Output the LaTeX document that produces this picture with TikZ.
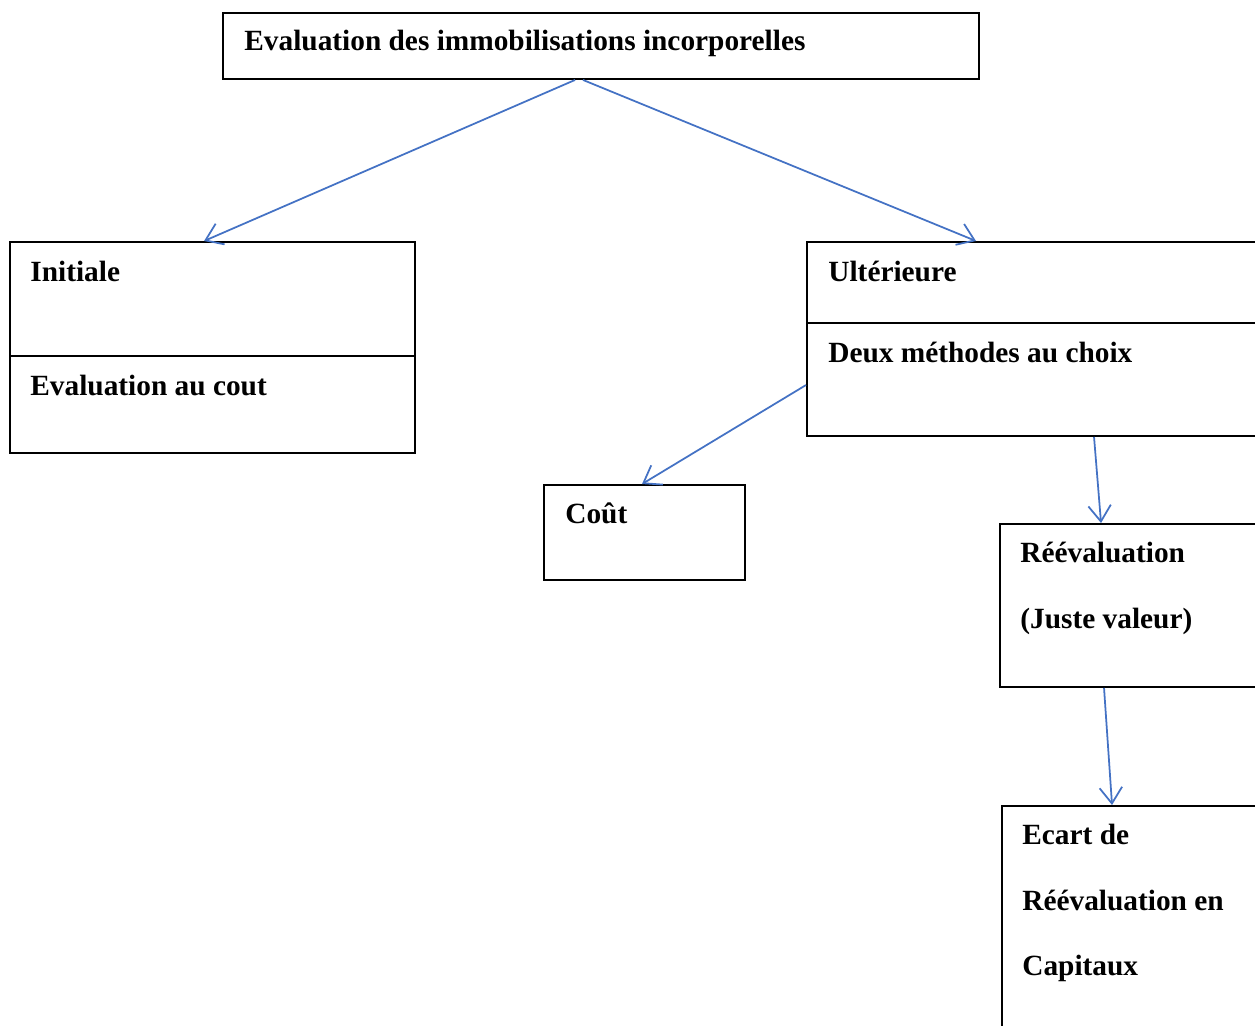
\documentclass[tikz,border=0pt]{standalone}
\usepackage{fontspec}
\setmainfont{Liberation Serif}
\usetikzlibrary{arrows.meta}
\definecolor{lienbleu}{RGB}{68,114,196}
\newcommand{\px}{0.02cm}

\begin{document}
\begin{tikzpicture}[x=0.02cm,y=-0.02cm,
		box/.style={draw, line width=1.1pt, inner sep=0pt},
		lbl/.style={anchor=base west, inner sep=0pt, font=\bfseries\fontsize{16.7}{20}\selectfont},
		lien/.style={draw=lienbleu, line width=1pt, -{Straight Barb[length=0.32cm,width=0.45cm]}}]
		\useasboundingbox (0,0) rectangle (1255,1026);
		\clip (0,0) rectangle (1255,1026);
		% boites
		\node[box, minimum width=756*\px, minimum height=66*\px] (titre) at (601,46) {};
		\node[box, minimum width=405*\px, minimum height=211*\px] (ini) at (212.5,347.5) {};
		\node[box, minimum width=493*\px, minimum height=194*\px] (ult) at (1053.5,339) {};
		\node[box, minimum width=201*\px, minimum height=95*\px] (cout) at (644.5,532.5) {};
		\node[box, minimum width=300*\px, minimum height=163*\px] (reev) at (1150,605.5) {};
		\node[box, minimum width=298*\px, minimum height=234*\px] (ecart) at (1151,923) {};
		\draw[line width=1.1pt] ([yshift=-115*\px]ini.north west) -- ([yshift=-115*\px]ini.north east);
		\draw[line width=1.1pt] ([yshift=-82*\px]ult.north west) -- ([yshift=-82*\px]ult.north east);
		% textes
		\node[lbl] (t-titre) at ([shift={(22,38)}]titre.north west) {Evaluation des immobilisations incorporelles};
		\node[lbl] (t-ini) at ([shift={(21,40)}]ini.north west) {Initiale};
		\node[lbl] (t-inicout) at ([shift={(21,154)}]ini.north west) {Evaluation au cout};
		\node[lbl] (t-ult) at ([shift={(22,40)}]ult.north west) {Ultérieure};
		\node[lbl] (t-ultchoix) at ([shift={(22,121)}]ult.north west) {Deux méthodes au choix};
		\node[lbl] (t-cout) at ([shift={(22,39)}]cout.north west) {Coût};
		\node[lbl] (t-reev) at ([shift={(21,39)}]reev.north west) {Réévaluation};
		\node[lbl] (t-reevjv) at ([shift={(21,105)}]reev.north west) {(Juste valeur)};
		\node[lbl] (t-ecart1) at ([shift={(21,39)}]ecart.north west) {Ecart de};
		\node[lbl] (t-ecart2) at ([shift={(21,105)}]ecart.north west) {Réévaluation en};
		\node[lbl] (t-ecart3) at ([shift={(21,170)}]ecart.north west) {Capitaux};
		% fleches
		\draw[lien] ([xshift=353*\px]titre.south west) -- ([xshift=195*\px]ini.north west);
		\draw[lien] ([xshift=361*\px]titre.south west) -- ([xshift=170*\px]ult.north west);
		\draw[lien] ([yshift=-144*\px]ult.north west) -- ([xshift=99*\px]cout.north west);
		\draw[lien] ([xshift=288*\px]ult.south west) -- ([xshift=102*\px]reev.north west);
		\draw[lien] ([xshift=105*\px]reev.south west) -- ([xshift=111*\px]ecart.north west);
	\end{tikzpicture}
\end{document}
